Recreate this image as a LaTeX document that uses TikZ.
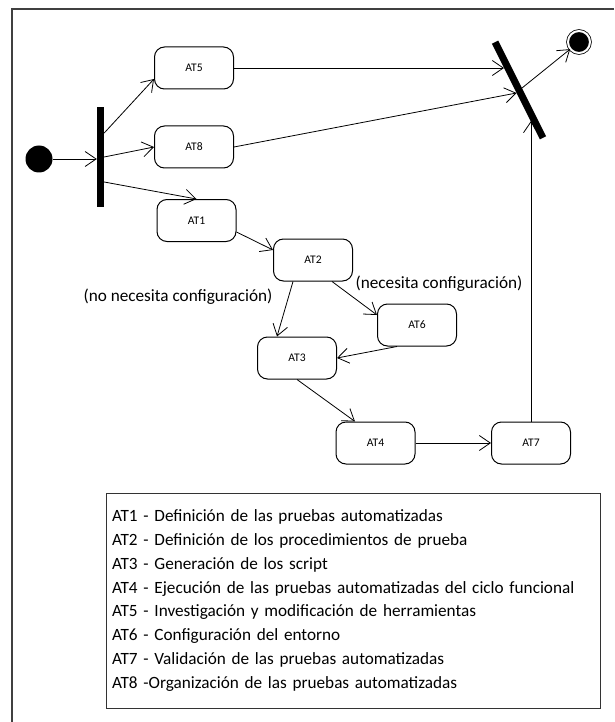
\documentclass[tikz,border=0pt]{standalone}
\usepackage{fontspec}
\setmainfont{Carlito}
\usetikzlibrary{arrows.meta}
\begin{document}
\begin{tikzpicture}[x=1pt, y=-1pt,
	>={Straight Barb[length=11pt,width=15pt]},
	act/.style={draw, rounded corners=10pt, minimum width=79pt, minimum height=42pt, line width=1pt, font=\fontsize{11.6}{14}\selectfont},
	bar/.style={fill, inner sep=0pt, minimum width=7pt, minimum height=100pt},
	conn/.style={line width=0.8pt, ->},
	note/.style={font=\fontsize{17.2}{20}\selectfont}]
	\useasboundingbox (0,0) rectangle (614,722);
	\draw[line width=1.2pt, black!75] (614,9) -- (12,9) -- (12,722);

	% start, fork and join
	\node[circle, fill, inner sep=0pt, minimum size=27pt] (start) at (39,159) {};
	\node[bar] (fork) at (100.5,157) {};
	\node[bar, minimum height=107pt, rotate=26.6] (join) at (519,90) {};
	\node[circle, fill, draw, double=white, double distance=2pt, line width=0.8pt, inner sep=0pt, minimum size=22pt] (end) at (579,42) {};
	\coordinate (j5) at (504,68);
	\coordinate (j8) at (516.5,93);
	\coordinate (jout) at (522,88);
	\coordinate (j7) at (531,121);

	% activities
	\node[act] (AT5) at (194,68) {AT5};
	\node[act] (AT8) at (194,147) {AT8};
	\node[act] (AT1) at (196.5,220.5) {AT1};
	\node[act] (AT2) at (313,260) {AT2};
	\node[act] (AT3) at (297,358) {AT3};
	\node[act] (AT6) at (417,325) {AT6};
	\node[act] (AT4) at (375.5,443) {AT4};
	\node[act] (AT7) at (531,443) {AT7};

	\node[note] (nocfg) at (178,297) {(no necesita configuración)};
	\node[note] (sicfg) at (439,284) {(necesita configuración)};

	\draw[conn] (start) -- (start -| fork.west);
	\draw[conn] ([yshift=24pt]fork.east) -- ([yshift=-11pt]AT5.west);
	\draw[conn] (fork.east) -- (AT8.west);
	\draw[conn] ([yshift=-25pt]fork.east) -- (AT1.north);
	\draw[conn] (AT5.east) -- (j5);
	\draw[conn] (AT8.east) -- (j8);
	\draw[conn] (jout) -- (end);
	\draw[conn] (AT1.east) ++(0,11.5) -- ([yshift=10pt]AT2.west);
	\draw[conn] ([xshift=-20pt]AT2.south) -- ([xshift=-20pt]AT3.north);
	\draw[conn] ([xshift=19pt]AT2.south) -- ([yshift=10pt]AT6.west);
	\draw[conn] ([xshift=-20pt]AT6.south) -- (AT3.east);
	\draw[conn] (AT3.south) -- ([xshift=-20.5pt]AT4.north);
	\draw[conn] (AT4.east) -- (AT7.west);
	\draw[conn] (AT7.north) -- (j7);

	% legend
	\node[draw, line width=1pt, black!80, text=black, minimum width=494pt, minimum height=215pt, text width=482pt, inner xsep=6pt, align=left, font=\fontsize{17.2}{23.9}\selectfont] (legend) at (353,600.5) {AT1 - Definición de las pruebas automatizadas\\
AT2 - Definición de los procedimientos de prueba\\
AT3 - Generación de los script\\
AT4 - Ejecución de las pruebas automatizadas del ciclo funcional\\
AT5 - Investigación y modificación de herramientas\\
AT6 - Configuración del entorno\\
AT7 - Validación de las pruebas automatizadas\\
AT8 -Organización de las pruebas automatizadas};
\end{tikzpicture}
\end{document}
